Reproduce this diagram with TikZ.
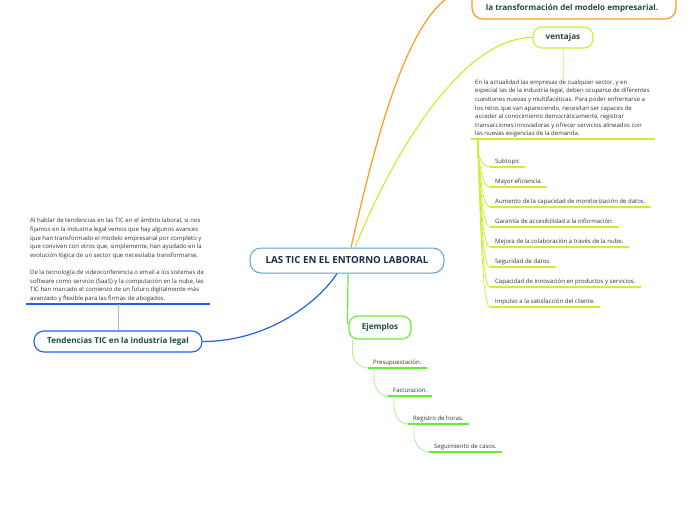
\documentclass[tikz,border=0pt]{standalone}
\usepackage{fontspec}
\setmainfont{Open Sans}
\usetikzlibrary{calc}
\definecolor{cblue}{HTML}{5DA0DC}
\definecolor{navy}{HTML}{1A2B4C}
\definecolor{titletext}{HTML}{1E4D3B}
\definecolor{bodytext}{HTML}{333333}
\definecolor{orangec}{HTML}{FF9A1F}
\definecolor{ygreen}{HTML}{CCEE33}
\definecolor{paley}{HTML}{E6F08A}
\definecolor{bluec}{HTML}{2060F0}
\definecolor{lblue}{HTML}{A0BEF0}
\definecolor{greenc}{HTML}{66EE33}
\definecolor{lgreen}{HTML}{B0F59A}
\begin{document}
\begin{tikzpicture}[x=1pt,y=-1pt,
  titlebox/.style={draw, fill=white, rounded corners=9pt, line width=1.1pt, inner sep=0pt,
    font=\bfseries\fontsize{8.1}{9.5}\selectfont, text=titletext},
  body/.style={font=\fontsize{6}{8.6}\selectfont, text=bodytext, align=left, inner sep=0pt},
  sub/.style={font=\fontsize{6}{7}\selectfont, text=bodytext, anchor=south west,
    inner xsep=5pt, inner ysep=2pt, text height=4.4pt, text depth=1.5pt}]
\useasboundingbox (0,0) rectangle (696,520);
\clip (0,0) rectangle (696,520);
\fill[white] (0,0) rectangle (696,520);

% central node
\node[titlebox, draw=cblue, line width=1pt, minimum width=194pt, minimum height=25pt,
  rounded corners=11pt, text=navy, font=\bfseries\fontsize{9.7}{11}\selectfont]
  (c) at (347,260.5) {LAS TIC EN EL ENTORNO LABORAL};

% orange box (cut at the top)
\node[titlebox, draw=orangec, line width=1.2pt, minimum width=204pt, minimum height=59pt,
  rounded corners=11pt] (ob) at (574,-10.5) {};
\node[font=\bfseries\fontsize{8.1}{9.5}\selectfont, text=titletext, inner sep=0pt]
  (obt) at (572,8) {la transformación del modelo empresarial.};

% ventajas
\node[titlebox, draw=ygreen, minimum width=60pt, minimum height=21pt] (ven) at (563,37.5) {ventajas};
\node[body, anchor=north west] (vt) at (475,79.5) {En la actualidad las empresas de cualquier sector, y en\\
especial las de la industria legal, deben ocuparse de diferentes\\
cuestiones nuevas y multifacéticas. Para poder enfrentarse a\\
los retos que van apareciendo, necesitan ser capaces de\\
acceder al conocimiento democráticamente, registrar\\
transacciones innovadoras y ofrecer servicios alineados con\\
las nuevas exigencias de la demanda.};
\draw[paley, line width=0.8pt] (ven.south) -- (ven.south |- vt.north);
\coordinate (vu1) at (471,139);
\coordinate (vu2) at (655,139);
\draw[ygreen, line width=1.8pt] (vu1) -- (vu2);
\coordinate (fantop) at (478,139);
\coordinate (fan) at (478,153);
\draw[ygreen, line width=1.3pt] (fantop) -- (fan);
\foreach \y/\t [count=\i] in {167/Subtopic, 187/Mayor eficiencia., 207/Aumento de la capacidad de monitorización de datos., 227/Garantía de accesibilidad a la información., 247/Mejora de la colaboración a través de la nube., 267/Seguridad de datos., 287/Capacidad de innovación en productos y servicios., 307/Impulso a la satisfacción del cliente.}{
  \node[sub] (s\i) at (490,\y) {\t};
  \draw[ygreen, line width=1.5pt] (s\i.south west) -- (s\i.south east);
  \draw[ygreen, line width=0.8pt] (fan) .. controls (481,{153+0.55*(\y-153)}) and (483,\y) .. (s\i.south west);
}

% left block
\node[body, anchor=north west] (lt) at (30,218) {Al hablar de tendencias en las TIC en el ámbito laboral, si nos\\
fijamos en la industria legal vemos que hay algunos avances\\
que han transformado el modelo empresarial por completo y\\
que conviven con otros que, simplemente, han ayudado en la\\
evolución lógica de un sector que necesitaba transformarse.\\[8.6pt]
De la tecnología de videoconferencia o email a los sistemas de\\
software como servicio (SaaS) y la computación en la nube, las\\
TIC han marcado el comienzo de un futuro digitalmente más\\
avanzado y flexible para las firmas de abogados.};
\coordinate (lu1) at (26,304);
\coordinate (lu2) at (210,304);
\draw[bluec, line width=1.5pt] (lu1) -- (lu2);
\node[titlebox, draw=bluec, minimum width=168pt, minimum height=21pt, rounded corners=10pt]
  (tend) at (118,341.5) {Tendencias TIC en la industria legal};
\draw[lblue, line width=0.8pt] (tend.north) -- (tend.north |- lu1);

% Ejemplos
\node[titlebox, draw=greenc, minimum width=62pt, minimum height=23pt] (ej) at (380,327.5) {Ejemplos};
\node[sub] (e1) at (368,368) {Presupuestación.};
\node[sub] (e2) at (388,396) {Facturación.};
\node[sub] (e3) at (408,424) {Registro de horas.};
\node[sub] (e4) at (429,452) {Seguimiento de casos.};
\foreach \n in {e1,e2,e3,e4}{
  \draw[greenc, line width=1.5pt] (\n.south west) -- (\n.south east);
}
\draw[lgreen, line width=0.9pt] ($(ej.south west)+(4,0)$) -- ++(0,12) .. controls +(0,10) and +(-8,0) .. (e1.south west);
\draw[lgreen, line width=0.9pt] ($(e1.south west)+(6,0)$) -- ++(0,10) .. controls +(0,10) and +(-8,0) .. (e2.south west);
\draw[lgreen, line width=0.9pt] ($(e2.south west)+(6,0)$) -- ++(0,10) .. controls +(0,10) and +(-8,0) .. (e3.south west);
\draw[lgreen, line width=0.9pt] ($(e3.south west)+(6,0)$) -- ++(0,10) .. controls +(0,10) and +(-8,0) .. (e4.south west);

% main connectors
\draw[orangec, line width=1.2pt] ($(c.north)+(4,0)$) .. controls (380,120) and (415,-10) .. (ob.west);
\draw[ygreen, line width=1.2pt] ($(c.north)+(8,0)$) .. controls (390,160) and (460,37.5) .. (ven.west);
\draw[bluec, line width=1.2pt] (tend.east) .. controls (270,341.5) and (320,300) .. ($(c.south)+(-10,0)$);
\draw[greenc, line width=1.2pt] ($(c.south)+(1,0)$) -- ($(ej.west)+(-1,-3.5)$);
\end{tikzpicture}
\end{document}
